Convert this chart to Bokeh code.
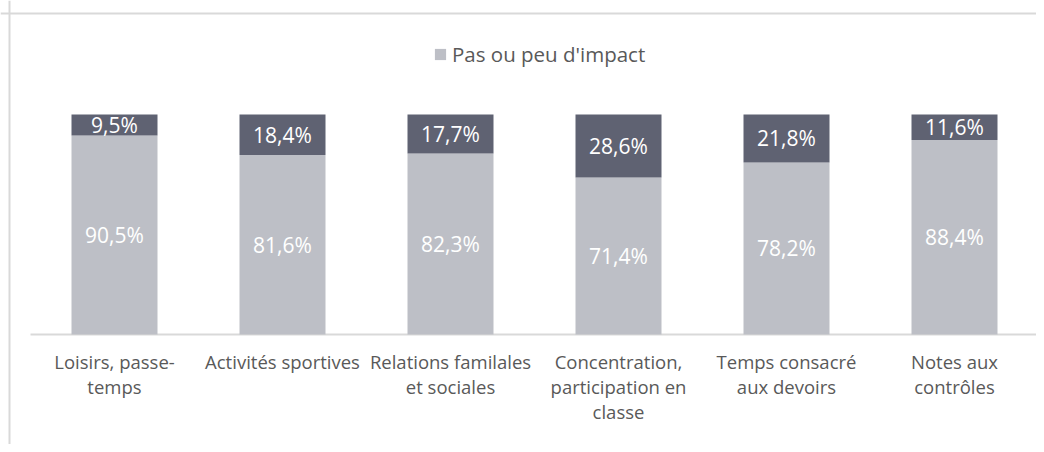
from bokeh.plotting import figure
from bokeh.models import ColumnDataSource, Range1d, Span, Legend, LegendItem
from bokeh.core.properties import value
from bokeh.embed import file_html
from bokeh.resources import INLINE

# ---- data ----
categories = ["Loisirs, passe-temps", "Activités sportives", "Relations familales et sociales",
              "Concentration, participation en classe", "Temps consacré aux devoirs", "Notes aux contrôles"]
tick_labels = ["Loisirs, passe-\ntemps", "Activités sportives", "Relations familales\net sociales",
               "Concentration,\nparticipation en\nclasse", "Temps consacré\naux devoirs", "Notes aux\ncontrôles"]
low_impact = [90.5, 81.6, 82.3, 71.4, 78.2, 88.4]
high_impact = [9.5, 18.4, 17.7, 28.6, 21.8, 11.6]
legend_label = "Pas ou peu d'impact"

LIGHT = "#bdbfc6"
DARK = "#5f6272"
TEXT = "#595959"
FONT = "Open Sans"

n = len(categories)
xs = [i + 0.5 for i in range(n)]
tops = [a + b for a, b in zip(low_impact, high_impact)]

src = ColumnDataSource(dict(
    x=xs, low=low_impact, high=high_impact, top=tops,
    low_mid=[a / 2 for a in low_impact],
    high_mid=[a + b / 2 for a, b in zip(low_impact, high_impact)],
    low_lbl=[f"{v:.1f}%".replace(".", ",") for v in low_impact],
    high_lbl=[f"{v:.1f}%".replace(".", ",") for v in high_impact],
    tick=tick_labels,
))

W, H = 1036, 444
X0, Y0, CW, K = 30, 334, 168, 2.2   # layout: first category left px, baseline px, category width, px per %
p = figure(width=W, height=H, output_backend="svg", toolbar_location=None,
           x_range=Range1d(-X0 / CW, (W - X0) / CW),
           y_range=Range1d((Y0 - H) / K, Y0 / K),
           x_axis_type=None, y_axis_type=None, min_border=0)
p.grid.visible = False
p.outline_line_color = None
p.background_fill_color = "white"
p.border_fill_color = "white"

# chart-area border (left and top visible)
p.add_layout(Span(location=(9 - X0) / CW, dimension="height", line_color="#d9d9d9", line_width=2))
p.add_layout(Span(location=(Y0 - 13) / K, dimension="width", line_color="#d9d9d9", line_width=2))

# baseline
p.segment(x0=0, x1=n, y0=0, y1=0, line_color="#d9d9d9", line_width=2)

bw = 86 / CW
r_low = p.vbar(x="x", width=bw, bottom=0, top="low", source=src, fill_color=LIGHT, line_color=None)
r_high = p.vbar(x="x", width=bw, bottom="low", top="top", source=src, fill_color=DARK, line_color=None)

p.text(x="x", y="low_mid", text="low_lbl", source=src, text_align="center", text_baseline="middle",
       text_font=value(FONT), text_font_size="21px", text_color="white")
p.text(x="x", y="high_mid", text="high_lbl", source=src, text_align="center", text_baseline="middle",
       text_font=value(FONT), text_font_size="21px", text_color="white")

# category labels
p.text(x="x", y=-6.6, text="tick", source=src, text_align="center", text_baseline="top",
       text_font=value(FONT), text_font_size="18.5px", text_color=TEXT, text_line_height=0.995)

legend = Legend(items=[LegendItem(label=legend_label, renderers=[r_low])],
                location=(433, 376), orientation="horizontal",
                glyph_width=14, glyph_height=14, label_standoff=5,
                label_text_font=FONT, label_text_font_size="20.5px", label_text_color=TEXT,
                padding=0, margin=0, border_line_color=None, background_fill_alpha=0)
p.add_layout(legend)

open("out.html", "w").write(file_html(p, INLINE))
